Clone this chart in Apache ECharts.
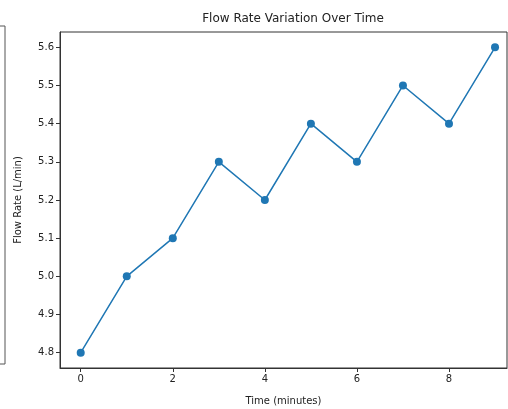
<!DOCTYPE html>
<html>
<head>
<meta charset="utf-8">
<script src="https://cdn.jsdelivr.net/npm/echarts@6/dist/echarts.min.js"></script>
<style>
  html, body { margin: 0; padding: 0; background: #fff; }
  #chart { width: 508px; height: 409px; }
</style>
</head>
<body>
<div id="chart"></div>
<script>
// data
const times = [0, 1, 2, 3, 4, 5, 6, 7, 8, 9]
const flowRates = [4.8, 5.0, 5.1, 5.3, 5.2, 5.4, 5.3, 5.5, 5.4, 5.6]
const xTicks = [0, 2, 4, 6, 8]
const yTicks = [4.8, 4.9, 5.0, 5.1, 5.2, 5.3, 5.4, 5.5, 5.6]

const chart = echarts.init(document.getElementById('chart'))
const font = 'DejaVu Sans'
const ink = '#222'

const option = {
  animation: false,
  title: {
    text: 'Flow Rate Variation Over Time',
    left: 288,
    top: 8,
    textAlign: 'center',
    textStyle: { fontFamily: font, fontSize: 12, fontWeight: 'normal', color: ink }
  },
  grid: {
    left: 60,
    top: 32,
    right: 1,
    bottom: 41,
    outerBoundsMode: 'none',
    show: true,
    borderColor: '#333',
    borderWidth: 1
  },
  xAxis: {
    type: 'value',
    // the picture is cut off on the right, so the upper limit is short of 9.45
    min: -0.45,
    max: 9.26,
    name: 'Time (minutes)',
    nameLocation: 'middle',
    nameGap: 28,
    nameTextStyle: { fontFamily: font, fontSize: 10, color: ink },
    splitLine: { show: false },
    axisLine: { show: true, onZero: false, lineStyle: { color: '#333' } },
    axisTick: { show: true, length: 4, customValues: xTicks, lineStyle: { color: '#333' } },
    axisLabel: { customValues: xTicks, fontFamily: font, fontSize: 10, color: ink, margin: 6 }
  },
  yAxis: {
    type: 'value',
    min: 4.76,
    max: 5.64,
    name: 'Flow Rate (L/min)',
    nameLocation: 'middle',
    nameGap: 37,
    nameTextStyle: { fontFamily: font, fontSize: 10, color: ink },
    splitLine: { show: false },
    axisLine: { show: true, onZero: false, lineStyle: { color: '#333' } },
    axisTick: { show: true, length: 4, customValues: yTicks, lineStyle: { color: '#333' } },
    axisLabel: {
      customValues: yTicks,
      fontFamily: font,
      fontSize: 10,
      color: ink,
      margin: 6,
      formatter: v => v.toFixed(1)
    }
  },
  series: [{
    type: 'line',
    data: times.map((t, i) => [t, flowRates[i]]),
    symbol: 'circle',
    symbolSize: 8,
    lineStyle: { color: '#1f77b4', width: 1.5 },
    itemStyle: { color: '#1f77b4' }
  }],
  // edge of the neighbouring panel, cut off at the left
  graphic: [{
    type: 'polyline',
    shape: { points: [[0, 26], [5, 26], [5, 364], [0, 364]] },
    style: { stroke: '#555', lineWidth: 1, fill: null }
  }]
}

chart.setOption(option)
</script>
</body>
</html>
